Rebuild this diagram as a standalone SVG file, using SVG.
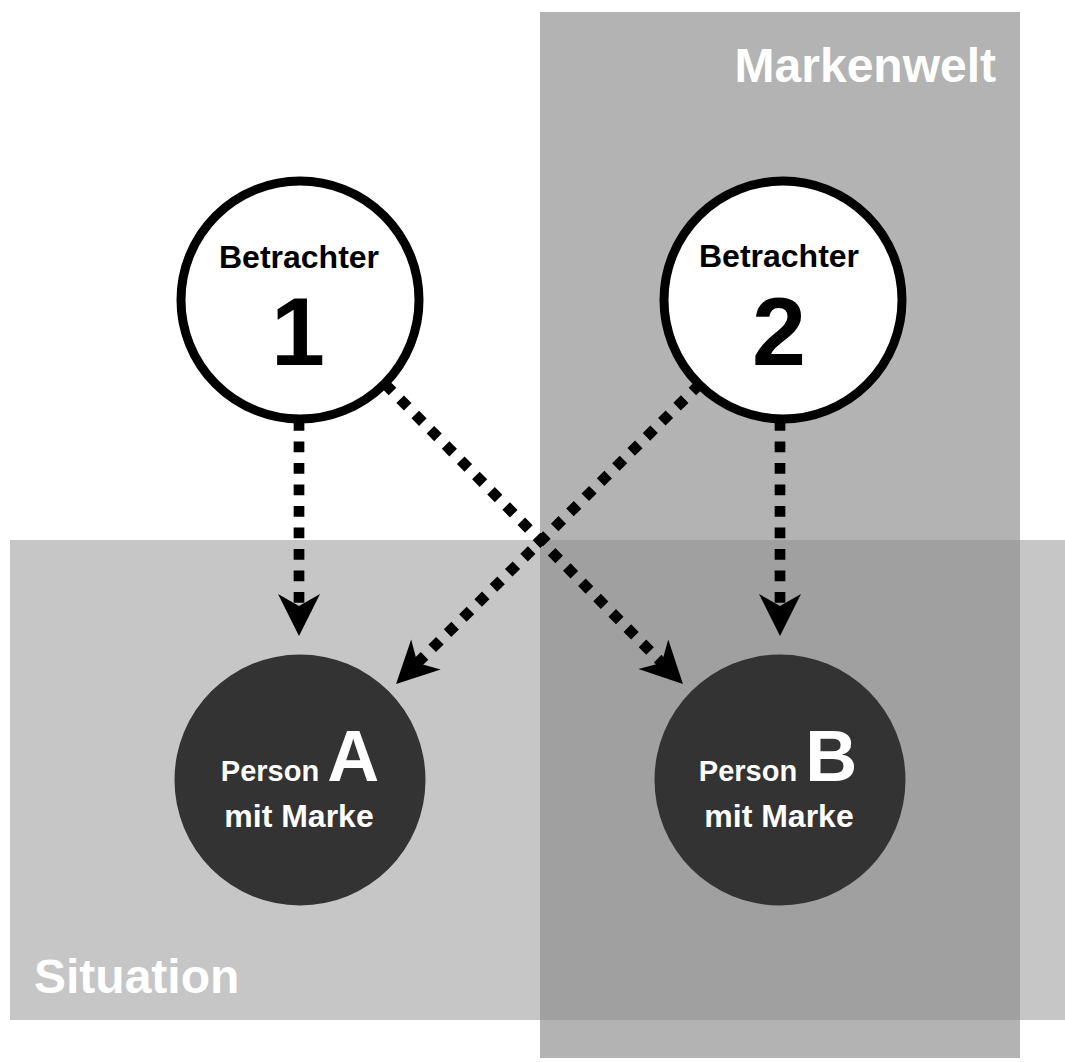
<svg xmlns="http://www.w3.org/2000/svg" width="1065" height="1062" viewBox="0 0 1065 1062">
  <style>
    text { font-family: "Liberation Sans", Arial, sans-serif; font-weight: bold; }
    .area-label { fill: #ffffff; font-size: 48px; }
    .viewer { fill: #ffffff; stroke: #000000; stroke-width: 9; }
    .viewer-t { fill: #000000; text-anchor: middle; }
    .person { fill: #333333; }
    .person-t { fill: #ffffff; text-anchor: middle; }
    .conn { fill: none; stroke: #000000; stroke-width: 10.7; stroke-dasharray: 10.7 10.8; marker-end: url(#arrow); }
  </style>
  <defs>
    <marker id="arrow" markerUnits="userSpaceOnUse" viewBox="-15 -23 48 46" refX="0" refY="0" markerWidth="48" markerHeight="46" orient="auto" overflow="visible">
      <path d="M30,0 L-12,-21 L0,0 L-12,21 Z" fill="#000000"/>
    </marker>
  </defs>

  <rect width="1065" height="1062" fill="#ffffff"/>

  <g id="markenwelt">
    <rect x="540" y="12" width="480" height="1046" fill="#b3b3b3"/>
  </g>
  <g id="situation">
    <rect x="10" y="540" width="1055" height="480" fill="#c6c6c6"/>
    <rect x="540" y="540" width="480" height="480" fill="#a0a0a0"/>
  </g>
  <text class="area-label" x="996" y="82" text-anchor="end">Markenwelt</text>
  <text class="area-label" x="34" y="993">Situation</text>

  <g id="betrachter1">
    <circle class="viewer" cx="300" cy="300" r="119"/>
    <text class="viewer-t" x="299" y="268" font-size="32">Betrachter</text>
    <text class="viewer-t" x="298" y="365" font-size="97">1</text>
  </g>
  <g id="betrachter2">
    <circle class="viewer" cx="783" cy="300" r="119"/>
    <text class="viewer-t" x="779" y="267" font-size="32">Betrachter</text>
    <text class="viewer-t" x="779" y="365" font-size="97">2</text>
  </g>

  <g id="personA">
    <circle class="person" cx="300" cy="780" r="125.5"/>
    <text class="person-t" x="300" y="781"><tspan font-size="29">Person </tspan><tspan font-size="72">A</tspan></text>
    <text class="person-t" x="299" y="827" font-size="32">mit Marke</text>
  </g>
  <g id="personB">
    <circle class="person" cx="780" cy="780" r="125.5"/>
    <text class="person-t" x="778" y="781"><tspan font-size="29">Person </tspan><tspan font-size="72">B</tspan></text>
    <text class="person-t" x="779" y="827" font-size="32">mit Marke</text>
  </g>

  <g id="connectors">
    <line class="conn" x1="299" y1="420" x2="299" y2="606"/>
    <line class="conn" x1="780" y1="420" x2="780" y2="606"/>
    <line class="conn" x1="385" y1="384" x2="661.8" y2="662.8"/>
    <line class="conn" x1="700" y1="384" x2="417.4" y2="662.9"/>
  </g>
</svg>
